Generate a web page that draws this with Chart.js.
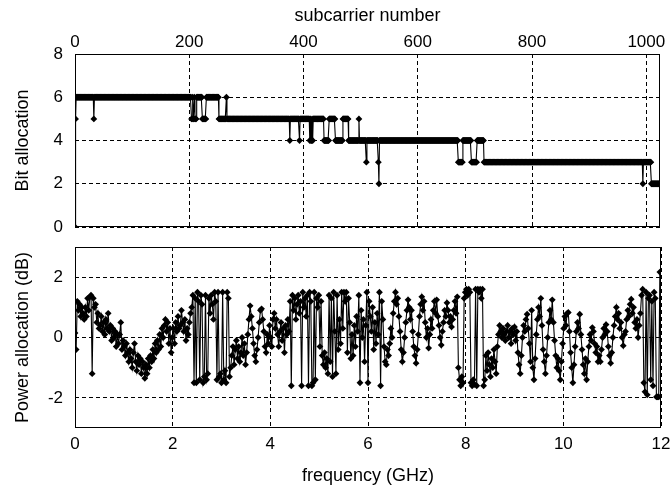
<!DOCTYPE html>
<html><head><meta charset="utf-8">
<script src="https://cdn.jsdelivr.net/npm/chart.js@4.4.1/dist/chart.umd.min.js"></script>
<style>
html,body{margin:0;padding:0;background:#fff;width:671px;height:488px;overflow:hidden}
#c1{position:absolute;left:0;top:0}
#c2{position:absolute;left:0;top:235px}
</style></head><body>
<canvas id="c1" width="671" height="240"></canvas>
<canvas id="c2" width="671" height="253"></canvas>
<script>
// ---- tick labels ----
const subcarrierTicks = [0, 200, 400, 600, 800, 1000];
const bitTicks = [0, 2, 4, 6, 8];
const freqTicks = [0, 2, 4, 6, 8, 10, 12];
const powerTicks = [-2, 0, 2];
const subcarrierCount = 1024;
const bandwidthGHz = 12;

// ---- bit allocation per subcarrier, as runs [bits, number of subcarriers] ----
const bitRuns = [
  [0,1],[5,1],[6,31],[5,1],[6,170],
  [5,1],[5,1],[6,1],[5,1],[5,1],[6,1],[5,1],[5,1],[5,1],[6,1],
  [6,9],[5,7],[6,22],[5,13],[6,1],[5,110],
  [4,1],[5,16],[4,1],[5,17],
  [4,1],[5,1],[4,1],[4,1],[5,1],[4,1],
  [5,19],[4,9],[5,11],[4,13],[5,10],[4,18],[5,1],[4,12],
  [3,1],[4,20],[3,1],[2,1],[4,138],
  [3,8],[4,15],[3,10],[4,12],[3,278],
  [2,1],[3,14],[2,15]
];

// ---- power allocation (dB), evenly spaced over 0..12 GHz ----
const powerDb = [
  0.15,-0.4,1.2,0.9,1.1,0.7,1.0,0.8,0.6,1.0,0.7,1.3,0.9,1.35,1.4,-1.2,1.3,1.0,1.1,0.5,0.8,0.3,
  0.4,0.7,0.2,0.5,0.1,0.6,0.3,0.8,0.2,0.4,-0.1,0.3,0.0,0.2,-0.3,0.1,-0.2,0.1,0.5,-0.4,-0.1,
  -0.3,-0.6,-0.2,-0.5,-0.8,-0.4,-0.7,-1.0,-0.5,-0.2,-0.8,-1.1,-0.6,-0.9,-0.7,-1.2,-0.8,-1.0,-1.35,-0.9,-1.2,-0.7,
  -1.0,-0.6,-0.8,-0.4,-0.7,-0.2,-0.5,-0.1,-0.4,0.1,-0.3,0.3,0.0,0.4,0.6,0.2,0.5,-0.2,0.3,-0.5,0.0,
  0.3,-0.2,0.5,0.2,0.7,0.3,0.4,0.9,0.5,0.2,0.6,-0.1,0.3,0.1,0.5,0.8,1.0,
  1.4,-1.5,1.3,-1.5,1.5,1.2,-1.4,1.4,1.1,-1.5,-1.3,1.4,-1.4,-1.2,1.3,0.8,1.4,1.1,0.6,1.5,1.2,-1.4,1.5,-1.3,-1.2,-1.5,1.5,-1.4,-1.1,-1.5,1.5,1.3,-1.3,-1.0,
  -0.6,-0.3,-0.9,-0.4,-0.1,-0.7,-0.3,-0.8,-0.5,0.0,-0.6,-0.2,-0.9,
  -0.5,0.1,0.6,1.05,0.7,0.3,-0.2,-0.6,-0.8,-0.4,0.0,0.5,0.9,0.95,0.6,0.2,-0.3,-0.5,0.1,-0.2,0.4,0.0,-0.3,0.6,0.8,0.3,0.6,0.1,-0.3,0.2,0.5,-0.1,0.3,-0.5,0.4,0.1,0.6,0.2,
  1.2,-1.6,1.4,0.9,1.3,0.6,1.1,1.4,0.8,1.2,-1.6,1.5,1.0,1.3,0.7,1.4,-1.6,1.5,1.2,-1.6,-1.5,1.5,-1.4,1.3,1.0,1.4,-0.3,1.2,-0.6,-0.9,-0.5,-1.0,-0.7,-1.2,1.4,-0.8,1.3,-1.3,1.5,0.2,-1.2,1.4,-0.4,
  0.6,-0.2,1.5,0.3,1.5,1.2,1.5,-0.5,1.3,0.5,-0.7,0.1,-0.6,0.4,-0.3,0.7,0.2,1.4,-1.5,0.9,0.0,0.6,-0.8,0.4,1.5,-1.5,1.2,0.7,0.2,1.0,-0.4,0.5,-0.2,0.8,0.1,1.5,-1.6,1.2,0.6,-0.3,-0.8,-0.9,-0.4,
  -0.6,-0.2,0.3,0.0,0.8,1.2,1.5,1.1,1.3,0.7,0.2,-0.4,-0.8,-0.5,0.0,0.5,0.9,1.25,1.0,0.6,0.9,0.2,-0.3,-0.6,-0.85,-0.4,0.1,0.7,1.1,1.35,0.9,1.2,0.5,0.0,0.3,-0.35,0.1,0.6,0.3,0.9,1.2,0.8,1.25,0.7,0.4,0.0,-0.25,0.2,0.5,0.9,0.7,1.15,0.9,0.5,0.7,0.35,0.6,0.9,1.2,0.8,1.35,
  -1.0,-1.4,-1.6,-1.3,-1.5,1.3,1.5,1.6,1.4,1.6,1.5,-1.5,-1.6,-1.4,-1.55,1.6,-1.6,1.6,1.5,1.6,1.3,1.6,-1.6,-1.4,
  -0.6,-1.1,-0.5,-0.9,-1.3,-0.7,-1.0,-0.4,-0.8,-1.2,-0.3,
  0.1,0.4,0.2,0.0,0.3,0.1,-0.1,0.2,0.4,0.0,0.2,-0.2,0.3,0.1,0.35,-0.1,0.2,
  -0.5,-0.9,-1.2,-0.6,0.0,0.4,0.2,0.6,0.77,0.3,-0.2,-0.8,0.9,-1.0,-1.4,-0.7,0.1,0.6,1.0,0.7,1.3,0.4,-0.4,-0.8,-1.2,-0.6,0.0,0.5,0.9,0.6,1.25,0.5,-0.1,-0.6,-1.0,-0.7,-1.1,-1.4,-0.8,-0.2,0.3,0.7,0.4,0.8,0.83,0.2,-0.5,-1.0,-1.5,-0.9,-0.3,0.2,0.5,0.3,0.77,0.1,-0.4,-0.9,-1.2,-0.7,-1.4,-0.8,-0.3,0.1,-0.1,0.33,0.2,-0.2,-0.5,-0.3,-0.8,-0.6,-0.8,-0.4,0.0,0.3,0.1,0.43,0.2,-0.3,-0.6,-0.85,-0.5,0.0,0.4,0.7,1.0,0.6,0.8,0.3,0.5,0.0,-0.27,0.1,0.2,0.6,0.9,0.7,1.1,1.27,0.8,1.0,0.5,0.3,0.6,0.0,0.4,0.8,
  1.4,1.6,-1.5,-1.8,1.5,-1.9,1.3,1.4,-1.4,1.2,-1.6,1.5,1.3,-1.97,-1.97,-1.97,2.17,-1.97
];

// ---- build point lists ----
const bitPoints = [];
{ let n = 0; for (const [bits, count] of bitRuns) { for (let k = 0; k < count; k++) bitPoints.push({x: n++, y: bits}); } }
const powerPoints = powerDb.map((v, i) => ({x: i * bandwidthGHz / (powerDb.length - 1), y: v}));

const FAM = "'Liberation Sans', Arial, Helvetica, sans-serif";
const tickFont = {family: FAM, size: 17};
const titleFont = {family: FAM, size: 18};
const K = '#000';

const frame = {
  id: 'frame',
  beforeDatasetsDraw(chart) {
    const {ctx, chartArea: a} = chart;
    ctx.save();
    ctx.strokeStyle = K; ctx.lineWidth = 1;
    ctx.strokeRect(Math.round(a.left) + 0.5, Math.round(a.top) + 0.5, Math.round(a.right - a.left) - 1, Math.round(a.bottom - a.top) - 1);
    ctx.restore();
  }
};

function fixTicks(list) { return s => { s.ticks = list.map(v => ({value: v})); }; }
const plain = v => String(v);
const gridOpts = {color: K, lineWidth: 1, drawTicks: false};
const borderOpts = {display: false, dash: [4, 3]};

const dsStyle = {
  borderColor: K, borderWidth: 1.1, backgroundColor: K,
  pointStyle: 'rectRot', pointRadius: 3.4, pointBorderWidth: 0, pointBackgroundColor: K,
  showLine: true, tension: 0
};

new Chart(document.getElementById('c1'), {
  type: 'scatter',
  data: {datasets: [Object.assign({label: 'Bit allocation', data: bitPoints}, dsStyle)]},
  options: {
    responsive: false, animation: false, devicePixelRatio: 1,
    layout: {padding: {left: 0, right: 11, top: 0, bottom: 13}},
    plugins: {legend: {display: false}, tooltip: {enabled: false}},
    scales: {
      x: {
        type: 'linear', position: 'top', min: 0, max: subcarrierCount,
        afterBuildTicks: fixTicks(subcarrierTicks),
        afterFit: s => { s.height = 54; s.paddingLeft = 0; s.paddingRight = 0; },
        ticks: {font: tickFont, color: K, padding: 1, maxRotation: 0, autoSkip: false, callback: plain},
        grid: gridOpts, border: borderOpts,
        title: {display: true, text: 'subcarrier number', font: titleFont, color: K, padding: {top: 5, bottom: 0}}
      },
      y: {
        type: 'linear', min: 0, max: 8,
        afterBuildTicks: fixTicks(bitTicks),
        afterFit: s => { s.width = 75; s.paddingTop = 0; s.paddingBottom = 0; },
        ticks: {font: tickFont, color: K, padding: 12, callback: plain},
        grid: gridOpts, border: borderOpts,
        title: {display: true, text: 'Bit allocation', font: titleFont, color: K, padding: {top: 12, bottom: 0}}
      }
    }
  },
  plugins: [frame]
});

new Chart(document.getElementById('c2'), {
  type: 'scatter',
  data: {datasets: [Object.assign({label: 'Power allocation', data: powerPoints}, dsStyle)]},
  options: {
    responsive: false, animation: false, devicePixelRatio: 1,
    layout: {padding: {left: 0, right: 10, top: 12, bottom: 0}},
    plugins: {legend: {display: false}, tooltip: {enabled: false}},
    scales: {
      x: {
        type: 'linear', position: 'bottom', min: 0, max: bandwidthGHz,
        afterBuildTicks: fixTicks(freqTicks),
        afterFit: s => { s.height = 60; s.paddingLeft = 0; s.paddingRight = 0; },
        ticks: {font: tickFont, color: K, padding: 6, maxRotation: 0, autoSkip: false, callback: plain},
        grid: gridOpts, border: borderOpts,
        title: {display: true, text: 'frequency (GHz)', font: titleFont, color: K, padding: {top: 0, bottom: 1}}
      },
      y: {
        type: 'linear', min: -3, max: 3,
        afterBuildTicks: fixTicks(powerTicks),
        afterFit: s => { s.width = 75; s.paddingTop = 0; s.paddingBottom = 0; },
        ticks: {font: tickFont, color: K, padding: 12, callback: plain},
        grid: gridOpts, border: borderOpts,
        title: {display: true, text: 'Power allocation (dB)', font: titleFont, color: K, padding: {top: 12, bottom: 0}}
      }
    }
  },
  plugins: [frame]
});
</script>
</body></html>
